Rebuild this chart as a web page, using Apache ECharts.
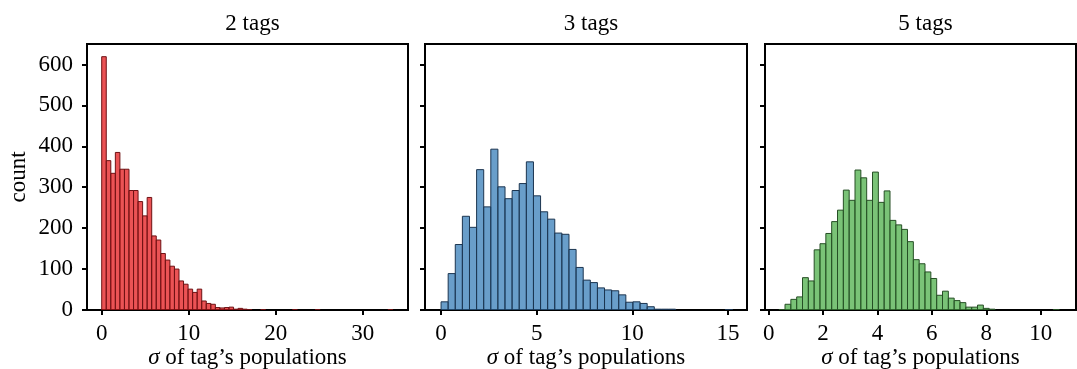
<!DOCTYPE html>
<html>
<head>
<meta charset="utf-8">
<title>sigma of tag's populations</title>
<script src="https://cdn.jsdelivr.net/npm/echarts@6/dist/echarts.min.js"></script>
<style>
  html, body { margin: 0; padding: 0; background: #fff; }
  #chart { width: 1077px; height: 369px; }
</style>
</head>
<body>
<div id="chart"></div>
<script>
// histogram bins: first edge, bin width, counts per bin
const titles = ['2 tags', '3 tags', '5 tags'];

const binStart2 = 0;
const binWidth2 = 0.5225;
const counts2 = [619, 365, 334, 385, 344, 344, 292, 292, 265, 230, 275, 181, 171, 138, 122, 107,
  100, 71, 63, 51, 43, 51, 22, 16, 14, 6, 5, 6, 7, 2, 4, 2, 1, 0, 0, 1, 0, 0, 0, 0, 0, 0, 1,
  0, 0, 0, 0, 1, 0, 0, 0, 0, 0, 0, 0, 0, 0, 0, 0, 0, 0, 0, 0, 1];

const binStart3 = 0;
const binWidth3 = 0.3717;
const counts3 = [20, 89, 160, 229, 202, 343, 252, 393, 301, 272, 292, 309, 362, 279, 240, 222,
  188, 185, 148, 104, 73, 67, 54, 49, 47, 37, 19, 20, 16, 8, 2, 2, 2, 0, 0, 0, 0, 0, 0, 0, 1];

const binStart5 = 0.3855;
const binWidth5 = 0.2145;
const counts5 = [1, 14, 26, 32, 79, 71, 147, 162, 187, 216, 244, 293, 268, 342, 323, 268, 337,
  263, 291, 219, 208, 197, 167, 123, 113, 93, 77, 36, 46, 29, 23, 18, 7, 7, 12, 4, 2,
  0, 0, 0, 0, 0, 0, 0, 0, 0, 0, 1];

const xTicks2 = [0, 10, 20, 30];
const xTicks3 = [0, 5, 10, 15];
const xTicks5 = [0, 2, 4, 6, 8, 10];
const yTicks = [0, 100, 200, 300, 400, 500, 600];

const panels = [
  { start: binStart2, width: binWidth2, counts: counts2, ticks: xTicks2, min: -1.69, max: 35.2,
    left: 87, w: 321, fill: 'rgba(228,26,28,0.75)', edge: '#6e1214' },
  { start: binStart3, width: binWidth3, counts: counts3, ticks: xTicks3, min: -0.84, max: 16.0,
    left: 425, w: 322, fill: 'rgba(55,126,184,0.75)', edge: '#1c3550' },
  { start: binStart5, width: binWidth5, counts: counts5, ticks: xTicks5, min: -0.136, max: 11.3,
    left: 765, w: 311, fill: 'rgba(77,175,74,0.75)', edge: '#264f25' },
];

const FONT = '"Liberation Serif", "DejaVu Serif", serif';
const FS = 23;
const TOP = 44, HEIGHT = 266;

const chart = echarts.init(document.getElementById('chart'), null, { renderer: 'canvas' });

const grid = panels.map(p => ({
  left: p.left, top: TOP, width: p.w, height: HEIGHT,
  outerBoundsMode: 'none',
  show: true, borderColor: '#000', borderWidth: 2, backgroundColor: 'transparent',
}));

const title = panels.map((p, i) => ({
  text: titles[i],
  left: p.left + p.w / 2,
  top: 7,
  textAlign: 'center',
  textStyle: { fontFamily: FONT, fontSize: FS, fontWeight: 'normal', color: '#000' },
}));

const xAxis = panels.map((p, i) => ({
  type: 'value',
  gridIndex: i,
  min: p.min,
  max: p.max,
  name: '{i|σ} of tag’s populations',
  nameLocation: 'middle',
  nameGap: 36,
  nameMoveOverlap: false,
  nameTextStyle: {
    fontFamily: FONT, fontSize: FS, color: '#000',
    rich: { i: { fontFamily: FONT, fontSize: FS, fontStyle: 'italic', color: '#000' } },
  },
  axisLine: { show: false, onZero: false },
  axisTick: { show: true, length: 5, lineStyle: { color: '#000', width: 2 }, customValues: p.ticks },
  axisLabel: { fontFamily: FONT, fontSize: FS, color: '#000', margin: 12, customValues: p.ticks },
  splitLine: { show: false },
}));

const yAxis = panels.map((p, i) => ({
  type: 'value',
  gridIndex: i,
  min: 0,
  max: 650,
  name: i === 0 ? 'count' : '',
  nameLocation: 'middle',
  nameGap: 57,
  nameMoveOverlap: false,
  nameTextStyle: { fontFamily: FONT, fontSize: FS, color: '#000' },
  axisLine: { show: false, onZero: false },
  axisTick: { show: true, length: 5, lineStyle: { color: '#000', width: 2 }, customValues: yTicks },
  axisLabel: { show: i === 0, fontFamily: FONT, fontSize: FS, color: '#000', margin: 14, customValues: yTicks },
  splitLine: { show: false },
}));

const series = panels.map((p, i) => ({
  type: 'custom',
  xAxisIndex: i,
  yAxisIndex: i,
  clip: true,
  encode: { x: [0, 1], y: 2 },
  data: p.counts.map((c, k) => [p.start + k * p.width, p.start + (k + 1) * p.width, c]),
  renderItem: (params, api) => {
    const c = api.value(2);
    if (!c) return null;
    const a = api.coord([api.value(0), c]);
    const b = api.coord([api.value(1), 0]);
    return {
      type: 'rect',
      shape: { x: a[0], y: a[1], width: b[0] - a[0], height: b[1] - a[1] },
      style: { fill: p.fill, stroke: p.edge, lineWidth: 1 },
    };
  },
}));

chart.setOption({
  animation: false,
  backgroundColor: '#fff',
  title,
  grid,
  xAxis,
  yAxis,
  series,
});
</script>
</body>
</html>
